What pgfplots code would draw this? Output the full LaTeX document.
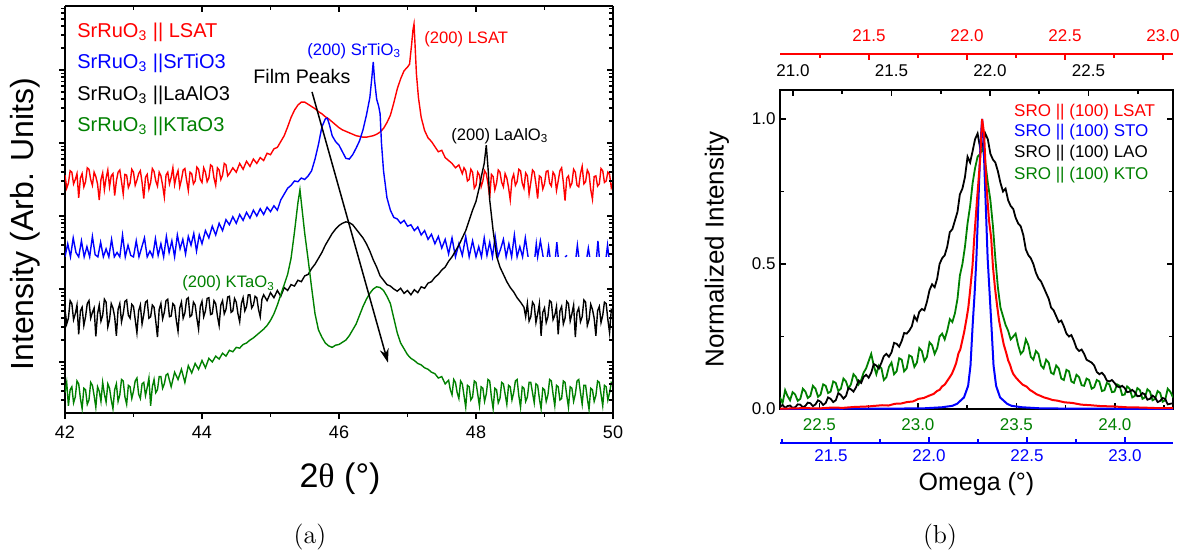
\documentclass[border=0pt]{standalone}
\usepackage{fontspec}
\setsansfont{Liberation Sans}
\newfontfamily\symgreek{Liberation Serif}
\usepackage{pgfplots}
\pgfplotsset{compat=1.18}
\usetikzlibrary{arrows.meta}
\definecolor{ored}{RGB}{255,0,0}
\definecolor{oblue}{RGB}{0,0,255}
\definecolor{ogreen}{RGB}{0,128,0}
\newcommand{\fsz}[1]{\fontsize{#1}{1.2\dimexpr#1\relax}\selectfont}
\begin{document}
\begin{tikzpicture}
\useasboundingbox (0,0) rectangle (591.5pt,-276pt);
%================ LEFT PANEL =================
\begin{axis}[at={(32.5pt,-206.5pt)},anchor=south west,scale only axis,
  width=274pt,height=203.5pt,xmin=42,xmax=50,ymin=0.301,ymax=5.877,
  axis x line*=bottom,axis y line*=left,axis line style={-,line width=1pt},
  tick align=outside,xtick={42,44,46,48,50},minor xtick={43,45,47,49},
  ytick={1,2,3,4,5},yticklabels={},
  minor ytick={0.477,0.602,0.699,0.778,0.845,0.903,0.954,1.301,1.477,1.602,1.699,1.778,1.845,1.903,1.954,2.301,2.477,2.602,2.699,2.778,2.845,2.903,2.954,3.301,3.477,3.602,3.699,3.778,3.845,3.903,3.954,4.301,4.477,4.602,4.699,4.778,4.845,4.903,4.954,5.301,5.477,5.602,5.699,5.778,5.845},
  major tick length=3pt,minor tick length=1.8pt,tick style={line width=0.8pt,black},
  xticklabel style={font=\sffamily\fsz{9pt}},
  /pgf/number format/assume math mode=true,unbounded coords=jump,no markers]
\addplot[ored,line width=0.7pt] coordinates {(42.00,3.56)(42.025,3.38)(42.05,3.45)(42.075,3.62)(42.10,3.60)(42.125,3.44)(42.15,3.50)(42.175,3.58)(42.20,3.25)(42.225,3.52)(42.25,3.58)(42.275,3.40)(42.30,3.47)(42.325,3.66)(42.35,3.64)(42.375,3.50)(42.40,3.42)(42.425,3.60)(42.45,3.54)(42.475,3.44)(42.50,3.22)(42.525,3.50)(42.55,3.59)(42.575,3.36)(42.60,3.52)(42.625,3.63)(42.65,3.40)(42.675,3.55)(42.70,3.58)(42.725,3.28)(42.75,3.48)(42.775,3.60)(42.80,3.63)(42.825,3.47)(42.85,3.30)(42.875,3.57)(42.90,3.56)(42.925,3.39)(42.95,3.45)(42.975,3.64)(43.00,3.60)(43.025,3.42)(43.05,3.49)(43.075,3.58)(43.10,3.62)(43.125,3.46)(43.15,3.24)(43.175,3.53)(43.20,3.57)(43.225,3.37)(43.25,3.46)(43.275,3.65)(43.30,3.61)(43.325,3.48)(43.35,3.41)(43.375,3.60)(43.40,3.55)(43.425,3.42)(43.45,3.26)(43.475,3.56)(43.50,3.60)(43.525,3.44)(43.55,3.53)(43.575,3.66)(43.60,3.43)(43.625,3.55)(43.65,3.62)(43.675,3.40)(43.70,3.50)(43.725,3.63)(43.75,3.65)(43.775,3.49)(43.80,3.35)(43.825,3.60)(43.85,3.58)(43.875,3.44)(43.90,3.48)(43.925,3.67)(43.95,3.64)(43.975,3.50)(44.00,3.46)(44.025,3.66)(44.05,3.60)(44.075,3.47)(44.10,3.52)(44.125,3.70)(44.15,3.68)(44.175,3.52)(44.20,3.42)(44.225,3.66)(44.25,3.63)(44.275,3.50)(44.30,3.56)(44.325,3.72)(44.35,3.70)(44.375,3.55)(44.40,3.58)(44.45,3.66)(44.50,3.60)(44.55,3.72)(44.60,3.64)(44.65,3.75)(44.70,3.68)(44.75,3.78)(44.80,3.72)(44.85,3.80)(44.90,3.76)(44.95,3.86)(45.00,3.84)(45.05,3.92)(45.10,3.94)(45.15,4.02)(45.20,4.10)(45.25,4.22)(45.30,4.35)(45.35,4.45)(45.40,4.52)(45.45,4.56)(45.50,4.56)(45.55,4.53)(45.60,4.50)(45.65,4.47)(45.70,4.43)(45.75,4.40)(45.80,4.36)(45.85,4.33)(45.90,4.29)(45.95,4.25)(46.00,4.21)(46.05,4.18)(46.10,4.16)(46.15,4.14)(46.20,4.12)(46.25,4.10)(46.30,4.09)(46.35,4.08)(46.40,4.08)(46.45,4.09)(46.50,4.10)(46.55,4.12)(46.60,4.15)(46.65,4.20)(46.70,4.28)(46.75,4.38)(46.80,4.55)(46.85,4.74)(46.90,4.88)(46.95,4.99)(47.00,5.04)(47.03,5.08)(47.06,5.35)(47.08,5.55)(47.095,5.63)(47.11,5.35)(47.13,4.95)(47.16,4.62)(47.20,4.35)(47.25,4.17)(47.30,4.07)(47.35,4.02)(47.40,3.95)(47.45,3.88)(47.50,3.90)(47.55,3.80)(47.60,3.76)(47.65,3.72)(47.70,3.66)(47.75,3.70)(47.80,3.58)(47.825,3.66)(47.85,3.62)(47.875,3.48)(47.90,3.50)(47.925,3.64)(47.95,3.60)(47.975,3.38)(48.00,3.42)(48.025,3.60)(48.05,3.56)(48.075,3.40)(48.10,3.48)(48.125,3.62)(48.15,3.58)(48.175,3.44)(48.20,3.25)(48.225,3.57)(48.25,3.54)(48.275,3.36)(48.30,3.45)(48.325,3.63)(48.35,3.60)(48.375,3.46)(48.40,3.40)(48.425,3.58)(48.45,3.52)(48.475,3.39)(48.50,3.22)(48.525,3.50)(48.55,3.57)(48.575,3.42)(48.60,3.47)(48.625,3.64)(48.65,3.62)(48.675,3.45)(48.70,3.38)(48.725,3.59)(48.75,3.55)(48.775,3.30)(48.80,3.46)(48.825,3.63)(48.85,3.60)(48.875,3.44)(48.90,3.24)(48.925,3.55)(48.95,3.53)(48.975,3.37)(49.00,3.44)(49.025,3.61)(49.05,3.62)(49.075,3.45)(49.10,3.41)(49.125,3.60)(49.15,3.56)(49.175,3.35)(49.20,3.48)(49.225,3.62)(49.25,3.66)(49.275,3.46)(49.30,3.21)(49.325,3.52)(49.35,3.55)(49.375,3.40)(49.40,3.45)(49.425,3.64)(49.45,3.60)(49.475,3.42)(49.50,3.40)(49.525,3.58)(49.55,3.68)(49.575,3.44)(49.60,3.47)(49.625,3.63)(49.65,3.58)(49.675,3.36)(49.70,3.23)(49.725,3.54)(49.75,3.55)(49.775,3.41)(49.80,3.44)(49.825,3.65)(49.85,3.62)(49.875,3.46)(49.90,3.48)(49.925,3.60)(49.95,3.57)(49.975,3.39)(50.00,3.46)};
\addplot[oblue,line width=0.7pt] coordinates {(42.00,2.44)(42.04,2.62)(42.08,2.44)(42.12,2.70)(42.16,2.50)(42.20,2.44)(42.24,2.66)(42.28,2.44)(42.32,2.58)(42.36,2.44)(42.40,2.72)(42.44,2.47)(42.48,2.44)(42.52,2.64)(42.56,2.44)(42.60,2.55)(42.64,2.44)(42.68,2.68)(42.72,2.44)(42.76,2.50)(42.80,2.44)(42.84,2.74)(42.88,2.44)(42.92,2.60)(42.96,2.46)(43.00,2.44)(43.04,2.66)(43.08,2.44)(43.12,2.57)(43.16,2.70)(43.20,2.44)(43.24,2.52)(43.28,2.44)(43.32,2.69)(43.36,2.46)(43.40,2.62)(43.44,2.44)(43.48,2.72)(43.52,2.50)(43.56,2.66)(43.60,2.44)(43.64,2.74)(43.68,2.55)(43.72,2.68)(43.76,2.48)(43.80,2.72)(43.84,2.60)(43.88,2.76)(43.92,2.52)(43.96,2.74)(44.00,2.62)(44.05,2.80)(44.10,2.70)(44.15,2.86)(44.20,2.74)(44.25,2.90)(44.30,2.80)(44.35,2.95)(44.40,2.88)(44.45,2.99)(44.50,2.90)(44.55,3.02)(44.60,2.94)(44.65,3.05)(44.70,2.97)(44.75,3.08)(44.80,3.00)(44.85,3.10)(44.90,3.02)(44.95,3.12)(45.00,3.06)(45.05,3.14)(45.10,3.08)(45.15,3.22)(45.20,3.30)(45.25,3.38)(45.30,3.42)(45.35,3.48)(45.40,3.47)(45.45,3.52)(45.50,3.50)(45.55,3.55)(45.60,3.62)(45.65,3.78)(45.70,3.98)(45.75,4.22)(45.80,4.33)(45.83,4.34)(45.86,4.25)(45.90,4.10)(45.95,4.02)(46.00,3.97)(46.05,3.88)(46.10,3.79)(46.15,3.78)(46.20,3.84)(46.25,3.93)(46.30,4.03)(46.35,4.18)(46.40,4.38)(46.45,4.62)(46.48,4.90)(46.50,5.11)(46.52,4.85)(46.55,4.60)(46.58,4.50)(46.60,4.40)(46.62,4.00)(46.65,3.62)(46.70,3.25)(46.75,3.08)(46.80,2.98)(46.85,2.96)(46.90,2.90)(46.95,2.94)(47.00,2.86)(47.05,2.88)(47.10,2.80)(47.15,2.85)(47.20,2.74)(47.25,2.80)(47.30,2.68)(47.35,2.75)(47.40,2.62)(47.45,2.72)(47.50,2.56)(47.55,2.68)(47.60,2.48)(47.65,2.70)(47.70,2.44)(47.75,2.62)(47.80,2.46)(47.85,2.72)(47.90,2.44)(47.95,2.66)(48.00,2.44)(48.04,2.58)(48.08,2.44)(48.12,2.70)(48.16,2.46)(48.20,2.64)(48.24,2.44)(48.28,2.72)(48.32,2.44)(48.36,2.55)(48.40,2.68)(48.44,2.44)(48.48,2.62)(48.52,2.44)(48.56,2.74)(48.60,2.44)(48.64,2.58)(48.68,2.44)(48.72,2.70)(48.76,2.44)(48.80,nan)(48.86,2.44)(48.88,2.62)(48.90,2.44)(48.94,2.66)(48.98,2.44)(49.00,nan)(49.04,2.44)(49.06,2.58)(49.08,2.44)(49.10,nan)(49.16,2.44)(49.18,2.64)(49.20,2.44)(49.22,nan)(49.30,2.44)(49.33,2.46)(49.35,nan)(49.46,2.44)(49.48,2.60)(49.50,2.44)(49.52,nan)(49.62,2.44)(49.64,2.56)(49.66,2.44)(49.68,nan)(49.76,2.44)(49.78,2.66)(49.80,2.44)(49.82,nan)(49.90,2.44)(49.92,2.60)(49.94,2.44)(49.96,nan)};
\addplot[black,line width=0.7pt] coordinates {(42.00,1.72)(42.025,1.52)(42.05,1.60)(42.075,1.84)(42.10,1.80)(42.125,1.58)(42.15,1.66)(42.175,1.78)(42.20,1.38)(42.225,1.70)(42.25,1.75)(42.275,1.50)(42.30,1.62)(42.325,1.80)(42.35,1.84)(42.375,1.60)(42.40,1.68)(42.425,1.74)(42.45,1.35)(42.475,1.66)(42.50,1.78)(42.525,1.56)(42.55,1.64)(42.575,1.86)(42.60,1.82)(42.625,1.48)(42.65,1.58)(42.675,1.80)(42.70,1.74)(42.725,1.62)(42.75,1.36)(42.775,1.72)(42.80,1.80)(42.825,1.55)(42.85,1.66)(42.875,1.83)(42.90,1.85)(42.925,1.64)(42.95,1.60)(42.975,1.79)(43.00,1.76)(43.025,1.58)(43.05,1.40)(43.075,1.70)(43.10,1.78)(43.125,1.52)(43.15,1.65)(43.175,1.82)(43.20,1.84)(43.225,1.60)(43.25,1.62)(43.275,1.78)(43.30,1.75)(43.325,1.56)(43.35,1.34)(43.375,1.72)(43.40,1.80)(43.425,1.59)(43.45,1.68)(43.475,1.84)(43.50,1.86)(43.525,1.62)(43.55,1.63)(43.575,1.80)(43.60,1.77)(43.625,1.57)(43.65,1.42)(43.675,1.74)(43.70,1.82)(43.725,1.60)(43.75,1.67)(43.775,1.86)(43.80,1.88)(43.825,1.62)(43.85,1.64)(43.875,1.82)(43.90,1.78)(43.925,1.60)(43.95,1.45)(43.975,1.76)(44.00,1.83)(44.025,1.62)(44.05,1.70)(44.075,1.87)(44.10,1.88)(44.125,1.65)(44.15,1.66)(44.175,1.84)(44.20,1.80)(44.225,1.63)(44.25,1.50)(44.275,1.78)(44.30,1.84)(44.325,1.66)(44.35,1.72)(44.375,1.89)(44.40,1.90)(44.425,1.68)(44.45,1.70)(44.475,1.87)(44.50,1.82)(44.525,1.66)(44.55,1.55)(44.575,1.80)(44.60,1.88)(44.625,1.70)(44.65,1.76)(44.675,1.92)(44.70,1.92)(44.725,1.74)(44.75,1.78)(44.775,1.90)(44.80,1.88)(44.825,1.72)(44.85,1.62)(44.875,1.86)(44.90,1.92)(44.95,1.84)(45.00,1.95)(45.05,1.88)(45.10,1.98)(45.15,1.90)(45.20,2.02)(45.25,1.98)(45.30,2.06)(45.35,2.04)(45.40,2.12)(45.45,2.10)(45.50,2.18)(45.55,2.20)(45.60,2.28)(45.65,2.34)(45.70,2.42)(45.75,2.50)(45.80,2.60)(45.85,2.68)(45.90,2.76)(45.95,2.82)(46.00,2.87)(46.05,2.90)(46.10,2.92)(46.15,2.91)(46.20,2.88)(46.25,2.82)(46.30,2.76)(46.35,2.70)(46.40,2.62)(46.45,2.52)(46.50,2.40)(46.55,2.30)(46.60,2.18)(46.65,2.12)(46.70,2.06)(46.75,2.04)(46.80,2.00)(46.85,1.97)(46.90,2.01)(46.95,1.94)(47.00,1.98)(47.05,1.92)(47.10,1.99)(47.15,1.95)(47.20,2.03)(47.25,2.01)(47.30,2.08)(47.35,2.10)(47.40,2.16)(47.45,2.20)(47.50,2.26)(47.55,2.30)(47.60,2.38)(47.65,2.44)(47.70,2.52)(47.75,2.60)(47.80,2.70)(47.85,2.80)(47.90,2.94)(47.95,3.08)(48.00,3.20)(48.05,3.40)(48.08,3.55)(48.12,3.72)(48.15,3.97)(48.18,3.60)(48.20,3.22)(48.25,2.80)(48.30,2.45)(48.35,2.30)(48.40,2.20)(48.45,2.10)(48.50,2.02)(48.55,1.96)(48.60,1.88)(48.65,1.82)(48.70,1.75)(48.725,1.62)(48.75,1.80)(48.775,1.56)(48.80,1.62)(48.825,1.82)(48.85,1.78)(48.875,1.54)(48.90,1.66)(48.925,1.80)(48.95,1.36)(48.975,1.68)(49.00,1.74)(49.025,1.54)(49.05,1.62)(49.075,1.84)(49.10,1.82)(49.125,1.58)(49.15,1.64)(49.175,1.76)(49.20,1.38)(49.225,1.70)(49.25,1.76)(49.275,1.52)(49.30,1.60)(49.325,1.83)(49.35,1.80)(49.375,1.56)(49.40,1.66)(49.425,1.78)(49.45,1.34)(49.475,1.68)(49.50,1.74)(49.525,1.55)(49.55,1.62)(49.575,1.85)(49.60,1.82)(49.625,1.50)(49.65,1.58)(49.675,1.79)(49.70,1.72)(49.725,1.60)(49.75,1.36)(49.775,1.70)(49.80,1.76)(49.825,1.54)(49.85,1.64)(49.875,1.82)(49.90,1.80)(49.925,1.58)(49.95,1.40)(49.975,1.72)(50.00,1.70)};
\addplot[ogreen,line width=0.7pt] coordinates {(42.00,0.58)(42.025,0.72)(42.05,0.40)(42.075,0.62)(42.10,0.66)(42.125,0.44)(42.15,0.52)(42.175,0.74)(42.20,0.70)(42.225,0.50)(42.25,0.36)(42.275,0.64)(42.30,0.62)(42.325,0.42)(42.35,0.48)(42.375,0.72)(42.40,0.68)(42.425,0.54)(42.45,0.38)(42.475,0.66)(42.50,0.60)(42.525,0.46)(42.55,0.72)(42.575,0.56)(42.60,0.45)(42.625,0.70)(42.65,0.64)(42.675,0.48)(42.70,0.36)(42.725,0.62)(42.75,0.70)(42.775,0.46)(42.80,0.55)(42.825,0.76)(42.85,0.74)(42.875,0.52)(42.90,0.42)(42.925,0.68)(42.95,0.66)(42.975,0.50)(43.00,0.60)(43.025,0.74)(43.05,0.78)(43.075,0.56)(43.10,0.50)(43.125,0.70)(43.15,0.72)(43.175,0.54)(43.20,0.65)(43.225,0.78)(43.25,0.40)(43.275,0.66)(43.30,0.76)(43.325,0.58)(43.35,0.62)(43.375,0.80)(43.40,0.80)(43.425,0.64)(43.45,0.70)(43.475,0.82)(43.50,0.84)(43.55,0.66)(43.60,0.86)(43.65,0.76)(43.70,0.90)(43.75,0.72)(43.80,0.95)(43.85,0.85)(43.90,0.98)(43.95,0.90)(44.00,1.02)(44.05,0.92)(44.10,1.05)(44.15,1.00)(44.20,1.08)(44.25,1.04)(44.30,1.12)(44.35,1.08)(44.40,1.16)(44.45,1.14)(44.50,1.20)(44.55,1.19)(44.60,1.24)(44.65,1.26)(44.70,1.30)(44.75,1.33)(44.80,1.37)(44.85,1.41)(44.90,1.45)(44.95,1.50)(45.00,1.57)(45.05,1.66)(45.10,1.78)(45.15,1.92)(45.20,2.06)(45.25,2.20)(45.30,2.42)(45.35,2.78)(45.40,3.18)(45.43,3.36)(45.46,3.10)(45.50,2.76)(45.55,2.40)(45.60,2.02)(45.65,1.66)(45.70,1.44)(45.75,1.34)(45.80,1.26)(45.85,1.22)(45.90,1.20)(45.95,1.23)(46.00,1.24)(46.05,1.27)(46.10,1.30)(46.15,1.36)(46.20,1.44)(46.25,1.52)(46.30,1.64)(46.35,1.76)(46.40,1.86)(46.45,1.94)(46.50,2.00)(46.55,2.03)(46.60,2.02)(46.65,1.98)(46.70,1.90)(46.75,1.80)(46.80,1.60)(46.85,1.40)(46.90,1.26)(46.95,1.18)(47.00,1.10)(47.05,1.05)(47.10,1.02)(47.15,0.98)(47.20,0.96)(47.25,0.92)(47.30,0.90)(47.35,0.86)(47.40,0.84)(47.45,0.78)(47.50,0.80)(47.55,0.70)(47.60,0.75)(47.625,0.62)(47.65,0.55)(47.675,0.76)(47.70,0.72)(47.725,0.58)(47.75,0.50)(47.775,0.74)(47.80,0.70)(47.825,0.54)(47.85,0.38)(47.875,0.68)(47.90,0.66)(47.925,0.48)(47.95,0.52)(47.975,0.74)(48.00,0.72)(48.025,0.56)(48.05,0.40)(48.075,0.66)(48.10,0.64)(48.125,0.46)(48.15,0.56)(48.175,0.76)(48.20,0.74)(48.225,0.52)(48.25,0.36)(48.275,0.64)(48.30,0.62)(48.325,0.44)(48.35,0.50)(48.375,0.72)(48.40,0.70)(48.425,0.56)(48.45,0.42)(48.475,0.68)(48.50,0.66)(48.525,0.48)(48.55,0.58)(48.575,0.74)(48.60,0.76)(48.625,0.54)(48.65,0.38)(48.675,0.66)(48.70,0.64)(48.725,0.46)(48.75,0.52)(48.775,0.72)(48.80,0.72)(48.825,0.58)(48.85,0.44)(48.875,0.70)(48.90,0.68)(48.925,0.50)(48.95,0.36)(48.975,0.64)(49.00,0.62)(49.025,0.46)(49.05,0.55)(49.075,0.76)(49.10,0.74)(49.125,0.56)(49.15,0.40)(49.175,0.68)(49.20,0.66)(49.225,0.48)(49.25,0.50)(49.275,0.74)(49.30,0.72)(49.325,0.54)(49.35,0.38)(49.375,0.66)(49.40,0.64)(49.425,0.46)(49.45,0.56)(49.475,0.74)(49.50,0.76)(49.525,0.58)(49.55,0.42)(49.575,0.68)(49.60,0.68)(49.625,0.50)(49.65,0.35)(49.675,0.64)(49.70,0.62)(49.725,0.46)(49.75,0.54)(49.775,0.74)(49.80,0.72)(49.825,0.56)(49.85,0.40)(49.875,0.68)(49.90,0.66)(49.925,0.48)(49.95,0.58)(49.975,0.72)(50.00,0.70)};
\draw[line width=0.75pt,-{Stealth[length=7pt,width=4.5pt]}] (axis cs:45.606,4.70) -- (axis cs:46.715,0.99);
\begin{scope}[every node/.style={inner sep=0pt,anchor=base west}]
\node[text=ored,font=\sffamily\fsz{10pt}] at (axis cs:42.175,5.452) {SrRuO\textsubscript{3} || LSAT};
\node[text=oblue,font=\sffamily\fsz{10pt}] at (axis cs:42.175,5.027) {SrRuO\textsubscript{3} ||SrTiO3};
\node[text=black,font=\sffamily\fsz{10pt}] at (axis cs:42.175,4.589) {SrRuO\textsubscript{3} ||LaAlO3};
\node[text=ogreen,font=\sffamily\fsz{10pt}] at (axis cs:42.175,4.151) {SrRuO\textsubscript{3} ||KTaO3};
\node[text=ored,font=\sffamily\fsz{8.3pt}] at (axis cs:47.241,5.370) {(200) LSAT};
\node[text=oblue,font=\sffamily\fsz{8.3pt}] at (axis cs:45.533,5.205) {(200) SrTiO\textsubscript{3}};
\node[text=black,font=\sffamily\fsz{8.3pt}] at (axis cs:47.635,4.041) {(200) LaAlO\textsubscript{3}};
\node[text=ogreen,font=\sffamily\fsz{8.3pt}] at (axis cs:43.708,2.014) {(200) KTaO\textsubscript{3}};
\node[text=black,font=\sffamily\fsz{9.8pt}] at (axis cs:44.745,4.822) {Film Peaks};
\end{scope}
\end{axis}
% mirror ticks (top, right) pointing inward
\begin{axis}[at={(32.5pt,-206.5pt)},anchor=south west,scale only axis,
  width=274pt,height=203.5pt,xmin=42,xmax=50,ymin=0.301,ymax=5.877,
  axis x line*=top,axis y line*=right,axis line style={-,line width=1pt},
  tick align=inside,xtick={42,44,46,48,50},minor xtick={43,45,47,49},
  ytick={1,2,3,4,5},xticklabels={},yticklabels={},
  minor ytick={0.477,0.602,0.699,0.778,0.845,0.903,0.954,1.301,1.477,1.602,1.699,1.778,1.845,1.903,1.954,2.301,2.477,2.602,2.699,2.778,2.845,2.903,2.954,3.301,3.477,3.602,3.699,3.778,3.845,3.903,3.954,4.301,4.477,4.602,4.699,4.778,4.845,4.903,4.954,5.301,5.477,5.602,5.699,5.778,5.845},
  major tick length=3pt,minor tick length=1.8pt,tick style={line width=0.8pt,black}]
\end{axis}
\node[rotate=90,font=\sffamily\fsz{16pt}] at (12.5pt,-112pt) {Intensity (Arb. Units)};
\node[anchor=base,font=\sffamily\fsz{17pt}] at (170pt,-243.5pt) {2{\symgreek θ} (°)};
\node[font=\rmfamily\fsz{13pt}] at (155pt,-268.5pt) {(a)};
%================ RIGHT PANEL =================
\begin{axis}[at={(390pt,-204.5pt)},anchor=south west,scale only axis,
  width=196.5pt,height=159.5pt,xmin=22.30,xmax=24.295,ymin=0,ymax=1.1,
  axis line style={line width=1pt},tick align=inside,xtick pos=left,ytick pos=both,
  xtick={22.5,23,23.5,24},minor xtick={22.75,23.25,23.75,24.25},
  ytick={0,0.5,1},minor ytick={0.25,0.75},
  major tick length=3pt,minor tick length=2pt,tick style={line width=0.8pt,black},
  xticklabel style={font=\sffamily\fsz{8.5pt},text=ogreen,yshift=-1.2pt,/pgf/number format/fixed,/pgf/number format/fixed zerofill,/pgf/number format/precision=1},
  yticklabel style={font=\sffamily\fsz{8.5pt},xshift=1.3pt,/pgf/number format/fixed,/pgf/number format/fixed zerofill,/pgf/number format/precision=1},
  /pgf/number format/assume math mode=true,no markers]
\addplot[ogreen,line width=0.9pt] coordinates {(22.300,0.040)(22.313,0.020)(22.326,0.065)(22.338,0.045)(22.351,0.030)(22.364,0.058)(22.377,0.050)(22.390,0.028)(22.403,0.035)(22.416,0.070)(22.429,0.060)(22.441,0.038)(22.454,0.045)(22.467,0.080)(22.480,0.070)(22.493,0.042)(22.506,0.050)(22.519,0.085)(22.532,0.080)(22.544,0.055)(22.557,0.060)(22.570,0.095)(22.583,0.090)(22.596,0.062)(22.609,0.070)(22.622,0.105)(22.635,0.095)(22.647,0.070)(22.660,0.085)(22.673,0.120)(22.686,0.110)(22.699,0.085)(22.712,0.100)(22.724,0.125)(22.737,0.140)(22.750,0.165)(22.763,0.190)(22.776,0.150)(22.789,0.120)(22.802,0.150)(22.815,0.140)(22.827,0.100)(22.840,0.110)(22.853,0.145)(22.866,0.160)(22.879,0.120)(22.892,0.130)(22.905,0.175)(22.918,0.170)(22.930,0.130)(22.943,0.140)(22.956,0.185)(22.969,0.180)(22.982,0.145)(22.995,0.160)(23.007,0.210)(23.020,0.200)(23.033,0.165)(23.046,0.180)(23.059,0.230)(23.072,0.220)(23.085,0.190)(23.098,0.210)(23.110,0.250)(23.123,0.260)(23.136,0.240)(23.149,0.270)(23.162,0.310)(23.175,0.300)(23.188,0.330)(23.201,0.380)(23.213,0.460)(23.226,0.500)(23.239,0.560)(23.252,0.640)(23.265,0.700)(23.278,0.780)(23.290,0.830)(23.303,0.870)(23.316,0.880)(23.329,0.900)(23.342,0.850)(23.355,0.780)(23.368,0.720)(23.381,0.630)(23.393,0.520)(23.406,0.420)(23.419,0.350)(23.432,0.320)(23.445,0.290)(23.458,0.270)(23.471,0.240)(23.484,0.250)(23.496,0.260)(23.509,0.220)(23.522,0.190)(23.535,0.200)(23.548,0.240)(23.561,0.220)(23.573,0.180)(23.586,0.170)(23.599,0.200)(23.612,0.190)(23.625,0.150)(23.638,0.140)(23.651,0.170)(23.664,0.160)(23.676,0.125)(23.689,0.120)(23.702,0.150)(23.715,0.140)(23.728,0.105)(23.741,0.100)(23.754,0.135)(23.767,0.130)(23.779,0.095)(23.792,0.090)(23.805,0.118)(23.818,0.110)(23.831,0.082)(23.844,0.080)(23.856,0.105)(23.869,0.100)(23.882,0.070)(23.895,0.075)(23.908,0.100)(23.921,0.095)(23.934,0.062)(23.947,0.065)(23.959,0.090)(23.972,0.085)(23.985,0.058)(23.998,0.060)(24.011,0.085)(24.024,0.080)(24.037,0.048)(24.050,0.050)(24.062,0.078)(24.075,0.070)(24.088,0.040)(24.101,0.045)(24.114,0.072)(24.127,0.065)(24.140,0.035)(24.152,0.040)(24.165,0.068)(24.178,0.060)(24.191,0.030)(24.204,0.035)(24.217,0.062)(24.230,0.055)(24.242,0.025)(24.255,0.030)(24.268,0.070)(24.281,0.060)(24.295,0.040)};
\addplot[black,line width=0.9pt] coordinates {(22.300,0.008)(22.313,0.014)(22.326,0.004)(22.338,0.010)(22.351,0.012)(22.364,0.004)(22.377,0.006)(22.390,0.016)(22.403,0.015)(22.416,0.006)(22.429,0.011)(22.441,0.022)(22.454,0.020)(22.467,0.010)(22.480,0.016)(22.493,0.030)(22.506,0.025)(22.519,0.014)(22.532,0.021)(22.544,0.040)(22.557,0.035)(22.570,0.024)(22.583,0.030)(22.596,0.055)(22.609,0.048)(22.622,0.036)(22.635,0.045)(22.647,0.072)(22.660,0.068)(22.673,0.060)(22.686,0.075)(22.699,0.098)(22.712,0.090)(22.724,0.110)(22.737,0.118)(22.750,0.108)(22.763,0.125)(22.776,0.155)(22.789,0.150)(22.802,0.140)(22.815,0.160)(22.827,0.182)(22.840,0.190)(22.853,0.180)(22.866,0.195)(22.879,0.228)(22.892,0.225)(22.905,0.215)(22.918,0.235)(22.930,0.262)(22.943,0.260)(22.956,0.270)(22.969,0.285)(22.982,0.320)(22.995,0.305)(23.007,0.335)(23.020,0.345)(23.033,0.340)(23.046,0.370)(23.059,0.410)(23.072,0.430)(23.085,0.420)(23.098,0.450)(23.110,0.500)(23.123,0.520)(23.136,0.530)(23.149,0.560)(23.162,0.610)(23.175,0.620)(23.188,0.650)(23.201,0.680)(23.213,0.740)(23.226,0.760)(23.239,0.800)(23.252,0.870)(23.265,0.850)(23.278,0.890)(23.290,0.930)(23.303,0.950)(23.316,0.900)(23.329,0.910)(23.342,0.950)(23.355,0.930)(23.368,0.880)(23.381,0.860)(23.393,0.850)(23.406,0.820)(23.419,0.780)(23.432,0.750)(23.445,0.760)(23.458,0.720)(23.471,0.700)(23.484,0.690)(23.496,0.660)(23.509,0.640)(23.522,0.630)(23.535,0.600)(23.548,0.550)(23.561,0.530)(23.573,0.520)(23.586,0.500)(23.599,0.470)(23.612,0.450)(23.625,0.440)(23.638,0.420)(23.651,0.400)(23.664,0.380)(23.676,0.350)(23.689,0.340)(23.702,0.320)(23.715,0.300)(23.728,0.305)(23.741,0.285)(23.754,0.260)(23.767,0.250)(23.779,0.255)(23.792,0.235)(23.805,0.210)(23.818,0.200)(23.831,0.205)(23.844,0.190)(23.856,0.170)(23.869,0.165)(23.882,0.160)(23.895,0.150)(23.908,0.128)(23.921,0.120)(23.934,0.125)(23.947,0.115)(23.959,0.098)(23.972,0.095)(23.985,0.100)(23.998,0.090)(24.011,0.078)(24.024,0.075)(24.037,0.080)(24.050,0.072)(24.062,0.058)(24.075,0.060)(24.088,0.066)(24.101,0.058)(24.114,0.044)(24.127,0.045)(24.140,0.055)(24.152,0.050)(24.165,0.032)(24.178,0.035)(24.191,0.046)(24.204,0.040)(24.217,0.024)(24.230,0.028)(24.242,0.038)(24.255,0.035)(24.268,0.016)(24.281,0.018)(24.295,0.020)};
\addplot[oblue,line width=1pt] coordinates {(22.300,0)(23.021,0.002)(23.123,0.006)(23.175,0.011)(23.199,0.018)(23.234,0.040)(23.255,0.080)(23.267,0.150)(23.278,0.290)(23.288,0.400)(23.297,0.520)(23.309,0.750)(23.318,0.920)(23.326,1.000)(23.333,0.920)(23.342,0.750)(23.354,0.520)(23.364,0.400)(23.373,0.290)(23.384,0.150)(23.397,0.080)(23.417,0.040)(23.453,0.018)(23.475,0.011)(23.529,0.006)(23.630,0.002)(24.295,0)};
\addplot[ored,line width=1pt] coordinates {(22.300,0.001)(22.422,0.003)(22.500,0.002)(22.564,0.005)(22.620,0.004)(22.676,0.007)(22.750,0.009)(22.818,0.013)(22.850,0.012)(22.884,0.018)(22.915,0.019)(22.945,0.024)(22.975,0.026)(23.003,0.035)(23.030,0.038)(23.057,0.046)(23.080,0.052)(23.097,0.062)(23.110,0.066)(23.123,0.078)(23.136,0.084)(23.148,0.096)(23.160,0.108)(23.173,0.122)(23.184,0.140)(23.194,0.158)(23.206,0.192)(23.215,0.205)(23.224,0.232)(23.235,0.266)(23.247,0.312)(23.256,0.350)(23.264,0.402)(23.277,0.492)(23.286,0.590)(23.300,0.720)(23.316,0.860)(23.326,1.000)(23.336,0.950)(23.347,0.780)(23.361,0.650)(23.372,0.590)(23.381,0.490)(23.391,0.420)(23.401,0.362)(23.412,0.305)(23.424,0.262)(23.436,0.222)(23.449,0.192)(23.458,0.168)(23.468,0.152)(23.476,0.134)(23.484,0.121)(23.498,0.108)(23.514,0.096)(23.532,0.084)(23.552,0.077)(23.568,0.066)(23.585,0.059)(23.602,0.051)(23.620,0.046)(23.640,0.040)(23.661,0.036)(23.684,0.031)(23.706,0.029)(23.745,0.023)(23.783,0.021)(23.830,0.015)(23.878,0.013)(23.930,0.010)(23.986,0.009)(24.060,0.006)(24.138,0.005)(24.220,0.003)(24.295,0.003)};
\begin{scope}[every node/.style={inner sep=0pt,anchor=base west,font=\sffamily\fsz{8.5pt}}]
\node[text=ored] at (axis cs:23.487,1.007) {SRO || (100) LSAT};
\node[text=oblue] at (axis cs:23.487,0.938) {SRO || (100) STO};
\node[text=black] at (axis cs:23.487,0.866) {SRO || (100) LAO};
\node[text=ogreen] at (axis cs:23.487,0.793) {SRO || (100) KTO};
\end{scope}
\end{axis}
% black top scale
\begin{axis}[at={(390pt,-204.5pt)},anchor=south west,scale only axis,
  width=196.5pt,height=159.5pt,xmin=20.934,xmax=22.929,ymin=0,ymax=1.1,
  axis x line*=top,axis y line=none,axis line style={-,line width=1pt},
  tick align=inside,xtick={21,21.5,22,22.5},minor xtick={21.25,21.75,22.25,22.75},
  major tick length=3pt,minor tick length=2pt,tick style={line width=0.8pt,black},
  xticklabel style={font=\sffamily\fsz{8.5pt},yshift=3pt,/pgf/number format/fixed,/pgf/number format/fixed zerofill,/pgf/number format/precision=1},
  /pgf/number format/assume math mode=true]
\end{axis}
% red top scale
\begin{axis}[at={(390pt,-26.75pt)},anchor=north west,scale only axis,
  width=196.5pt,height=6pt,xmin=21.046,xmax=23.051,ymin=0,ymax=1,
  axis x line*=top,axis y line=none,axis line style={-,ored,line width=1pt},
  tick align=inside,xtick={21.5,22,22.5,23},minor xtick={21.25,21.75,22.25,22.75},
  major tick length=3pt,minor tick length=2pt,tick style={line width=0.8pt,ored},
  xticklabel style={font=\sffamily\fsz{8.5pt},text=ored,yshift=2.4pt,/pgf/number format/fixed,/pgf/number format/fixed zerofill,/pgf/number format/precision=1},
  /pgf/number format/assume math mode=true]
\end{axis}
% blue bottom scale
\begin{axis}[at={(390pt,-221.5pt)},anchor=south west,scale only axis,
  width=196.5pt,height=6pt,xmin=21.240,xmax=23.245,ymin=0,ymax=1,
  axis x line*=bottom,axis y line=none,axis line style={-,oblue,line width=1pt},
  tick align=inside,xtick={21.5,22,22.5,23},minor xtick={21.25,21.75,22.25,22.75},
  major tick length=3pt,minor tick length=2pt,tick style={line width=0.8pt,oblue},
  xticklabel style={font=\sffamily\fsz{8.5pt},text=oblue,/pgf/number format/fixed,/pgf/number format/fixed zerofill,/pgf/number format/precision=1},
  /pgf/number format/assume math mode=true]
\end{axis}
\node[rotate=90,font=\sffamily\fsz{13pt}] at (358.5pt,-124.75pt) {Normalized Intensity};
\node[anchor=base,font=\sffamily\fsz{12.5pt}] at (488.25pt,-245pt) {Omega (°)};
\node[font=\rmfamily\fsz{13pt}] at (470pt,-268.5pt) {(b)};
\end{tikzpicture}
\end{document}
